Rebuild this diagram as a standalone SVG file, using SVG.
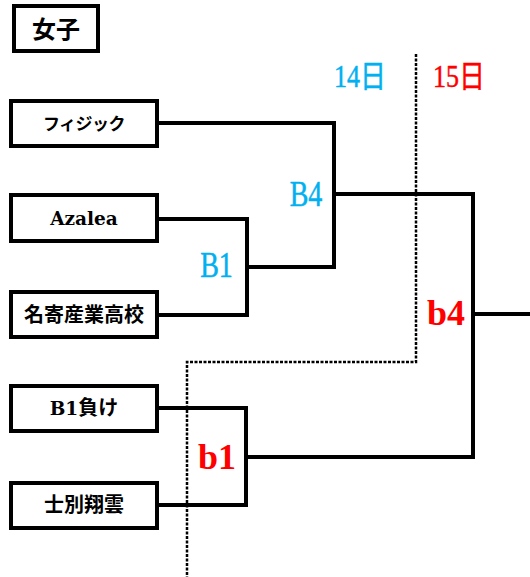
<svg xmlns="http://www.w3.org/2000/svg" width="530" height="577" viewBox="0 0 530 577">
<style>
.box{fill:#fff;stroke:#000;stroke-width:4}
.t{font-family:"Noto Sans CJK JP",sans-serif;font-weight:bold;font-size:20px;text-anchor:middle;fill:#000}
.l{font-family:"DejaVu Serif",serif;font-weight:bold;font-size:18.5px}
.w{fill:none;stroke:#000;stroke-width:4}
.d{fill:none;stroke:#000;stroke-width:2.5;stroke-dasharray:3 1.5}
.c{font-family:"Liberation Serif","Noto Sans CJK JP",serif;fill:#00b0f0;font-size:28px;text-anchor:middle;stroke:#00b0f0;stroke-width:0.4}
.r{font-family:"Liberation Serif","Noto Sans CJK JP",serif;fill:#ff0000;font-size:36px;text-anchor:middle;font-weight:bold}
</style>
<rect width="530" height="577" fill="#fff"/>
<g id="title"><rect class="box" x="14" y="6" width="84" height="45"/><text class="t" x="56" y="38" style="font-size:24px">女子</text></g>
<g id="connectors">
<polyline class="d" points="416,54 416,362 187,362 187,577"/>
<polyline class="w" points="159,123 334,123 334,267 247,267"/>
<polyline class="w" points="159,219 247,219 247,315 159,315"/>
<polyline class="w" points="334,194 473,194 473,457 246,457"/>
<polyline class="w" points="159,408 246,408 246,505 159,505"/>
<line class="w" x1="473" y1="314" x2="530" y2="314"/>
</g>
<g id="n1"><rect class="box" x="11" y="101" width="146" height="45"/><text class="t" x="84" y="130" style="font-size:17px;letter-spacing:-0.5px">フィジック</text></g>
<g id="n2"><rect class="box" x="11" y="195" width="146" height="46"/><text class="t l" x="84" y="225">Azalea</text></g>
<g id="n3"><rect class="box" x="11" y="292" width="146" height="45"/><text class="t" x="84" y="322">名寄産業高校</text></g>
<g id="n4"><rect class="box" x="11" y="386" width="146" height="45"/><text class="t" x="84" y="415"><tspan class="l">B1</tspan>負け</text></g>
<g id="n5"><rect class="box" x="11" y="483" width="146" height="45"/><text class="t" x="84" y="512">士別翔雲</text></g>
<g id="labels">
<text class="c" transform="translate(360,87) scale(1,1.2)" style="font-size:26px">14日</text>
<text class="r" transform="translate(459,87) scale(1,1.2)" style="font-size:26px;font-weight:normal;stroke:#ff0000;stroke-width:0.4">15日</text>
<text class="c" transform="translate(306,206) scale(1,1.25)">B4</text>
<text class="c" transform="translate(216.5,277) scale(1,1.25)">B1</text>
<text class="r" x="446" y="325">b4</text>
<text class="r" x="217" y="469">b1</text>
</g>
</svg>
